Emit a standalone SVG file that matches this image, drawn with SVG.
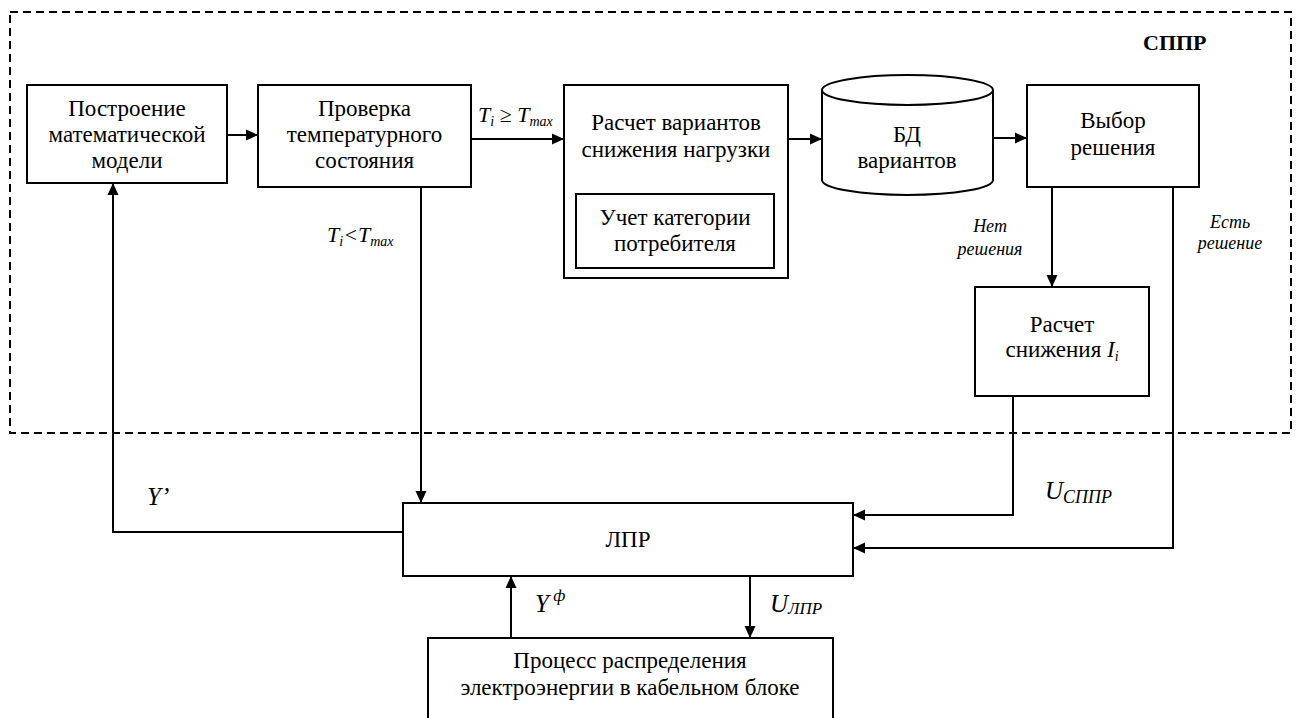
<svg xmlns="http://www.w3.org/2000/svg" width="1299" height="718" viewBox="0 0 1299 718">
<style>
text{font-family:"Liberation Serif","Times New Roman",Tinos,"DejaVu Serif",serif;fill:#000}
.t{font-size:23px;text-anchor:middle}
.i{font-style:italic}
.b{fill:#fff;stroke:#000;stroke-width:2}
.c{fill:none;stroke:#000;stroke-width:2}
</style>
<defs>
<marker id="a" markerWidth="12" markerHeight="12" viewBox="0 0 12 12" refX="12" refY="6" orient="auto" markerUnits="userSpaceOnUse">
<path d="M0,0.5 L12,6 L0,11.5 Z" fill="#000"/>
</marker>
</defs>
<rect x="0" y="0" width="1299" height="718" fill="#fff"/>
<g id="sppr">
<rect x="10" y="12" width="1281" height="421" fill="none" stroke="#000" stroke-width="2" stroke-dasharray="8,5"/>
<text x="1143" y="50" font-weight="bold" font-size="22">СППР</text>
</g>
<g id="connectors">
<path class="c" d="M227,135 H258" marker-end="url(#a)"/>
<path class="c" d="M471,139 H564" marker-end="url(#a)"/>
<path class="c" d="M788,139 H822" marker-end="url(#a)"/>
<path class="c" d="M993,138 H1027" marker-end="url(#a)"/>
<path class="c" d="M1052,187 V287" marker-end="url(#a)"/>
<path class="c" d="M1173,187 V548 H853" marker-end="url(#a)"/>
<path class="c" d="M1013,396 V515 H853" marker-end="url(#a)"/>
<path class="c" d="M421,187 V503" marker-end="url(#a)"/>
<path class="c" d="M403,532 H113 V183" marker-end="url(#a)"/>
<path class="c" d="M511,638 V576" marker-end="url(#a)"/>
<path class="c" d="M750,576 V638" marker-end="url(#a)"/>
</g>
<g id="labels">
<text class="i" x="478" y="122" font-size="22">T<tspan font-size="14" dy="4">i</tspan><tspan font-style="normal" dy="-4"> ≥ </tspan>T<tspan font-size="14" dy="4">max</tspan></text>
<text class="i" x="327" y="242" font-size="22">T<tspan font-size="14" dy="4">i</tspan><tspan dy="-4">&lt;</tspan>T<tspan font-size="14" dy="4">max</tspan></text>
<text class="i" x="990" y="232" font-size="18" text-anchor="middle">Нет</text>
<text class="i" x="990" y="255" font-size="18" text-anchor="middle">решения</text>
<text class="i" x="1230" y="228" font-size="18" text-anchor="middle">Есть</text>
<text class="i" x="1230" y="249" font-size="18" text-anchor="middle">решение</text>
<text class="i" x="147" y="505" font-size="25">Y’</text>
<text class="i" x="535" y="612" font-size="25">Y<tspan font-size="17" dy="-11"> ф</tspan></text>
<text class="i" x="770" y="612" font-size="25">U<tspan font-size="17" dy="2">ЛПР</tspan></text>
<text class="i" x="1045" y="499" font-size="25">U<tspan font-size="18" dy="4">СППР</tspan></text>
</g>
<g id="n1">
<rect class="b" x="27" y="85" width="200" height="98"/>
<text class="t" x="127" y="116">Построение</text>
<text class="t" x="127" y="142">математической</text>
<text class="t" x="127" y="168">модели</text>
</g>
<g id="n2">
<rect class="b" x="258" y="85" width="213" height="102"/>
<text class="t" x="364.5" y="116">Проверка</text>
<text class="t" x="364.5" y="142">температурного</text>
<text class="t" x="364.5" y="168">состояния</text>
</g>
<g id="n3">
<rect class="b" x="564" y="85" width="224" height="193"/>
<text class="t" x="676" y="130">Расчет вариантов</text>
<text class="t" x="676" y="157">снижения нагрузки</text>
<rect class="b" x="576" y="194" width="198" height="74" stroke-width="1.5"/>
<text class="t" x="675" y="225">Учет категории</text>
<text class="t" x="675" y="251">потребителя</text>
</g>
<g id="n4">
<path class="b" d="M822,90 V180 A85.5,15 0 0 0 993,180 V90"/>
<ellipse class="b" cx="907.5" cy="90" rx="85.5" ry="15"/>
<text class="t" x="907" y="142">БД</text>
<text class="t" x="907" y="168">вариантов</text>
</g>
<g id="n5">
<rect class="b" x="1027" y="85" width="172" height="102"/>
<text class="t" x="1113" y="128">Выбор</text>
<text class="t" x="1113" y="155">решения</text>
</g>
<g id="n6">
<rect class="b" x="975" y="287" width="174" height="109" stroke-width="1.5"/>
<text class="t" x="1062" y="332">Расчет</text>
<text class="t" x="1062" y="357">снижения <tspan font-style="italic">I</tspan><tspan font-style="italic" font-size="14" dy="4">i</tspan></text>
</g>
<g id="n7">
<rect class="b" x="403" y="503" width="450" height="73"/>
<text class="t" x="628" y="547">ЛПР</text>
</g>
<g id="n8">
<rect class="b" x="428" y="638" width="405" height="100"/>
<text class="t" x="630" y="668">Процесс распределения</text>
<text class="t" x="630" y="695">электроэнергии в кабельном блоке</text>
</g>
</svg>
